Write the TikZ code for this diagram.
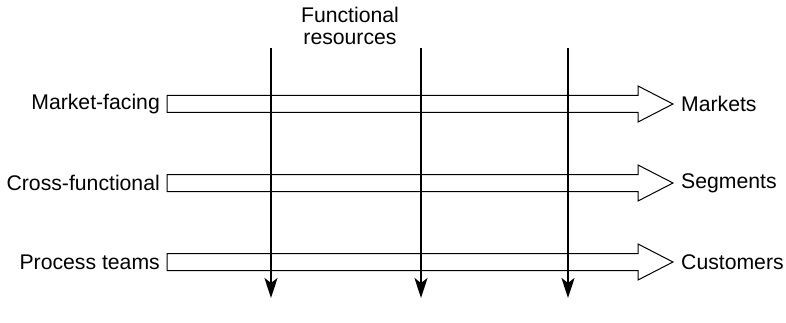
\documentclass[tikz,border=0pt]{standalone}
\usepackage{fontspec}
\setmainfont{Liberation Sans}
\usepackage{tikz}
\usetikzlibrary{calc,arrows.meta}

\tikzstyle{lbl} = [
    inner sep=0pt,
    font=\fontsize{21.2}{21.5}\selectfont
    ]
\tikzstyle{fat} = [
    draw=black,
    fill=white,
    line width=1pt,
    line join=miter
    ]
\tikzstyle{res} = [
    draw=black,
    line width=2pt,
    -{Stealth[length=20pt,width=13pt,inset=5pt]}
    ]
\newcommand{\fatarrow}[2]{% hollow arrow from #1 to #2
\draw[fat] ($(#1.east)+(7,-8.5)$) -- ($(#2.west)+(-43,-8.5)$)
    -- ($(#2.west)+(-43,-18)$) -- ($(#2.west)+(-8,0)$)
    -- ($(#2.west)+(-43,18)$) -- ($(#2.west)+(-43,8.5)$)
    -- ($(#1.east)+(7,8.5)$) -- cycle;
}

\begin{document}
\begin{tikzpicture}[x=1pt,y=-1pt]
\useasboundingbox (0,0) rectangle (786,323);

% functional resources
\node[lbl, align=center] (fr) at (350,26) {Functional\\resources};
\coordinate (t1) at (271,48);
\coordinate (b1) at (271,298);
\coordinate (t2) at (421,48);
\coordinate (b2) at (421,298);
\coordinate (t3) at (568,48);
\coordinate (b3) at (568,298);

% teams and what they face
\node[lbl, anchor=east] (mf) at (160,104) {Market-facing};
\node[lbl, anchor=east] (cf) at (160,183) {Cross-functional};
\node[lbl, anchor=east] (pt) at (160,262) {Process teams};
\node[lbl, anchor=west] (mk) at (681,104) {Markets};
\node[lbl, anchor=west] (sg) at (681,183) {Segments};
\node[lbl, anchor=west] (cu) at (681,262) {Customers};

\fatarrow{mf}{mk}
\fatarrow{cf}{sg}
\fatarrow{pt}{cu}

\draw[res] (t1) -- (b1);
\draw[res] (t2) -- (b2);
\draw[res] (t3) -- (b3);
\end{tikzpicture}
\end{document}
